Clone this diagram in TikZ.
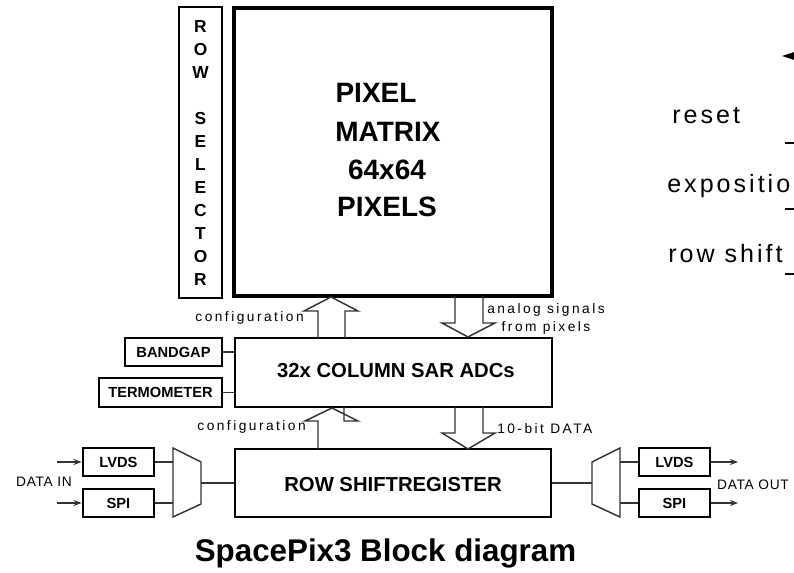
\documentclass[tikz,border=0pt]{standalone}
\usepackage{fontspec}
\setmainfont{Liberation Sans}
\newfontfamily\spaced[LetterSpace=18]{Liberation Sans}
\newfontfamily\lspaced[LetterSpace=12]{Liberation Sans}
\newfontfamily\dspaced[LetterSpace=5]{Liberation Sans}
\usetikzlibrary{arrows.meta,fit}
\begin{document}
\begin{tikzpicture}[x=0.75pt,y=-0.75pt,
  blk/.style={draw=black, line width=2.2pt, inner sep=0pt},
  btxt/.style={font=\bfseries\fontsize{11}{13}\selectfont, inner sep=0pt},
  bigblk/.style={draw=black, line width=3pt, inner sep=0pt},
  wire/.style={draw=black!80, line width=1.1pt},
  barrow/.style={draw=black!80, line width=1.1pt, line join=miter},
  sigarrow/.style={wire, -{Stealth[length=6pt,width=4.5pt]}},
  lbl/.style={font=\spaced\fontsize{10.3}{13.5}\selectfont, inner sep=0pt},
  dlbl/.style={font=\dspaced\fontsize{10.3}{13}\selectfont, inner sep=0pt},
  rlbl/.style={font=\lspaced\fontsize{18.8}{22}\selectfont, inner sep=0pt},
  bigtxt/.style={font=\bfseries\fontsize{21}{25}\selectfont, inner sep=0pt},
  midtxt/.style={font=\bfseries\fontsize{15.2}{18}\selectfont, inner sep=0pt}
]
\useasboundingbox (0,0) rectangle (794,573);
\clip (0,0) rectangle (794,573);

% main blocks
\node[blk, fit={(179,7) (222,298)}] (rowsel) {};
\node[font=\bfseries\fontsize{13}{17.2}\selectfont, align=center, inner sep=0pt] (rowselt) at (200.5,153)
  {R\\O\\W\\\mbox{}\\S\\E\\L\\E\\C\\T\\O\\R};
\node[bigblk, fit={(234,8) (552,296)}] (pix) {};
\node[bigtxt, anchor=base] (t1) at (376,103) {PIXEL};
\node[bigtxt, anchor=base] (t2) at (388,142) {MATRIX};
\node[bigtxt, anchor=base] (t3) at (387,180) {64x64};
\node[bigtxt, anchor=base] (t4) at (387,217) {PIXELS};

\node[blk, fit={(235,338) (552,407)}] (adc) {};
\node[midtxt] (adct) at (396,371) {32x COLUMN SAR ADCs};
\node[blk, fit={(235,449) (551,517)}] (rsr) {};
\node[midtxt] (rsrt) at (393,485) {ROW SHIFTREGISTER};

\node[blk, fit={(125,338) (222,366)}] (bandgap) {};
\node[btxt] (bandgapt) at (bandgap.center) {BANDGAP};
\node[blk, fit={(99,378) (222,407)}] (termo) {};
\node[btxt] (termot) at (termo.center) {TERMOMETER};

\node[blk, fit={(83,448) (154,476)}] (lvdsL) {};
\node[btxt] (lvdsLt) at (lvdsL.center) {LVDS};
\node[blk, fit={(83,489) (154,517)}] (spiL) {};
\node[btxt] (spiLt) at (spiL.center) {SPI};
\node[blk, fit={(639,448) (710,476)}] (lvdsR) {};
\node[btxt] (lvdsRt) at (lvdsR.center) {LVDS};
\node[blk, fit={(639,489) (710,517)}] (spiR) {};
\node[btxt] (spiRt) at (spiR.center) {SPI};

% side connections
\draw[wire] (bandgap.east) -- (adc.west |- bandgap.east);
\draw[wire] (termo.east) -- (adc.west |- termo.east);

% multiplexers
\coordinate (mLa) at (173,462); \coordinate (mLb) at (173,503); \coordinate (mLo) at (201,483);
\coordinate (mRa) at (620,462); \coordinate (mRb) at (620,503); \coordinate (mRi) at (592,483);
\draw[wire, line join=miter] (173,448) -- (201,462) -- (201,504) -- (173,517) -- cycle;
\draw[wire, line join=miter] (620,448) -- (592,462) -- (592,504) -- (620,517) -- cycle;
\draw[wire] (lvdsL.east) -- (mLa);
\draw[wire] (spiL.east) -- (mLb);
\draw[wire] (mLo) -- (rsr.west |- mLo);
\draw[wire] (rsr.east |- mRi) -- (mRi);
\draw[wire] (mRa) -- (lvdsR.west);
\draw[wire] (mRb) -- (spiR.west);

% data in / out
\coordinate (inA) at (57,462); \coordinate (inB) at (57,503);
\coordinate (outA) at (738,462); \coordinate (outB) at (738,503);
\draw[sigarrow] (inA) -- (lvdsL.west);
\draw[sigarrow] (inB) -- (spiL.west);
\draw[sigarrow] (lvdsR.east) -- (outA);
\draw[sigarrow] (spiR.east) -- (outB);
\node[dlbl] (din) at (44,482) {DATA IN};
\node[dlbl] (dout) at (753,485) {DATA OUT};

% block arrows
\draw[barrow] (318,338) -- (318,311) -- (304,311) -- (331,297) -- (358,311) -- (345,311) -- (345,338);
\draw[barrow] (455,296) -- (455,323) -- (442,323) -- (468,337) -- (495,323) -- (483,323) -- (483,296);
\draw[barrow] (455,407) -- (455,433) -- (442,433) -- (468,449) -- (495,433) -- (483,433) -- (483,407);
\draw[barrow] (318,449) -- (318,421) -- (305,421) -- (332,408) -- (358,421) -- (344,421) -- (344,407);

\node[lbl, anchor=east] (cfg1) at (304,318) {configuration};
\node[lbl, anchor=east] (cfg2) at (306,427) {configuration};
\node[lbl, align=center] (analog) at (546,319) {analog signals\\from pixels};
\node[lbl, anchor=west] (tenbit) at (497,429) {10-bit DATA};

% cut-off labels on the right
\node[rlbl, anchor=base west] (reset) at (672,124) {reset};
\node[rlbl, anchor=base west] (expo) at (667,193) {expositio};
\node[rlbl, anchor=base west] (rshift) at (668,263) {row shift};
\fill (782,56) -- (796,51.5) -- (796,60.5) -- cycle;
\draw[black, line width=0.9pt] (785,143) -- (800,143);
\draw[black, line width=0.9pt] (785,209) -- (800,209);
\draw[black, line width=0.9pt] (785,274) -- (800,274);

% title
\node[font=\bfseries\fontsize{23.5}{28}\selectfont, anchor=base, inner sep=0pt] (title) at (385.5,562) {SpacePix3 Block diagram};
\end{tikzpicture}
\end{document}
